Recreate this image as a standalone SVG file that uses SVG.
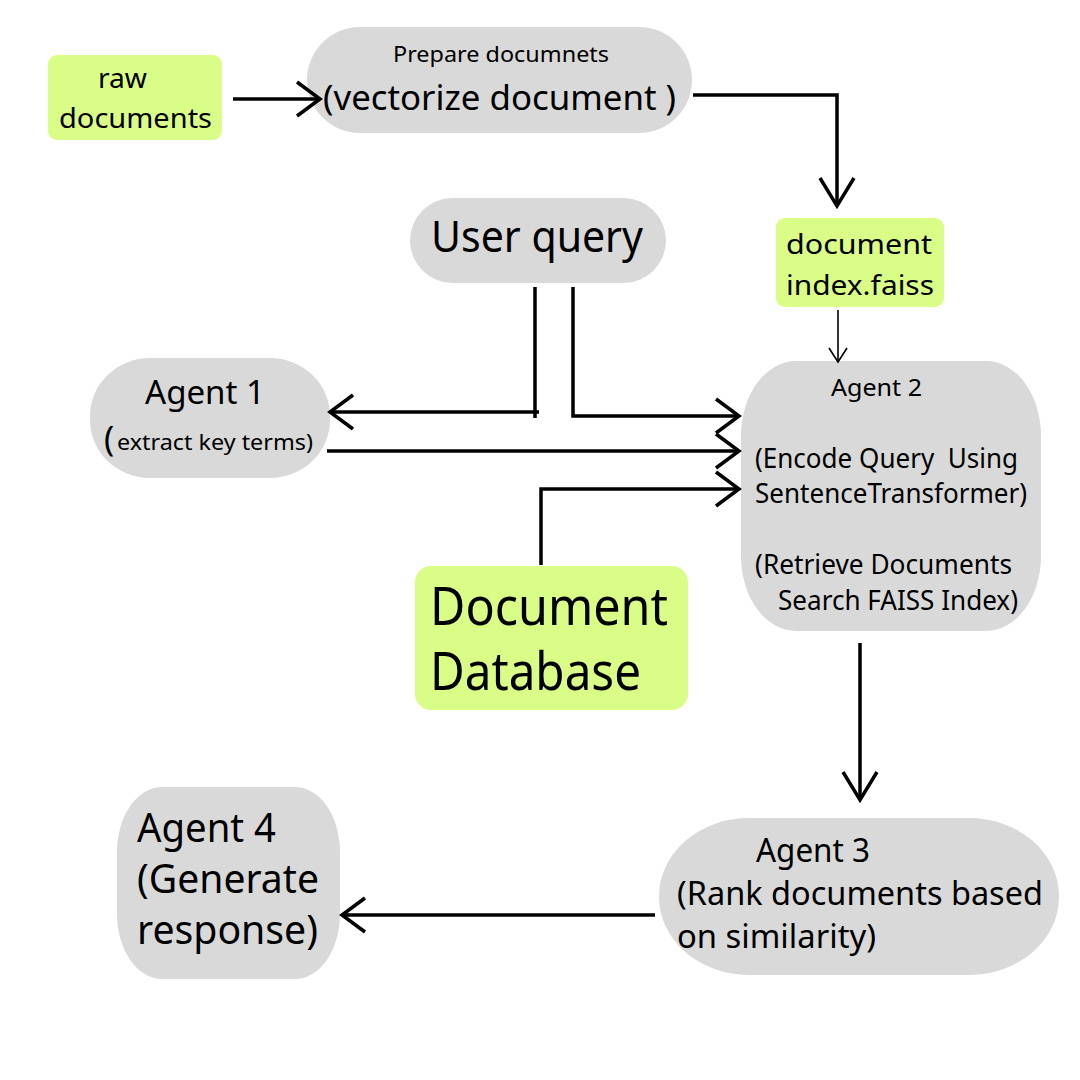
<svg xmlns="http://www.w3.org/2000/svg" width="1080" height="1080" viewBox="0 0 1080 1080">
<style>
.g{fill:#d9d9d9}
.y{fill:#d9fd86}
text{font-family:"Noto Sans","DejaVu Sans",sans-serif;fill:#000}
.pre{white-space:pre}
.c{fill:none;stroke:#000;stroke-width:3.5}
.t{fill:none;stroke:#000;stroke-width:1.6}
</style>
<defs>
<marker id="ch" markerUnits="userSpaceOnUse" markerWidth="40" markerHeight="40" refX="0" refY="0" orient="auto" overflow="visible">
<path d="M-23,-17 L0,0 L-23,17" fill="none" stroke="#000" stroke-width="3.5"/>
</marker>
<marker id="chb" markerUnits="userSpaceOnUse" markerWidth="40" markerHeight="40" refX="0" refY="0" orient="auto" overflow="visible">
<path d="M-28,-17 L0,0 L-28,17" fill="none" stroke="#000" stroke-width="3.5"/>
</marker>
<marker id="chs" markerUnits="userSpaceOnUse" markerWidth="30" markerHeight="30" refX="0" refY="0" orient="auto" overflow="visible">
<path d="M-14,-9 L0,0 L-14,9" fill="none" stroke="#000" stroke-width="1.6"/>
</marker>
</defs>
<rect width="1080" height="1080" fill="#fff"/>

<g id="raw-documents">
<rect class="y" x="48" y="55" width="174" height="85" rx="9"/>
<text x="98" y="88" font-size="28" textLength="49" lengthAdjust="spacingAndGlyphs">raw</text>
<text x="59" y="128" font-size="28" textLength="153" lengthAdjust="spacingAndGlyphs">documents</text>
</g>

<g id="prepare-documents">
<rect class="g" x="307" y="27" width="385" height="106" rx="53"/>
<text x="393" y="62" font-size="22" textLength="216" lengthAdjust="spacingAndGlyphs">Prepare documnets</text>
<text x="323" y="110" font-size="34" textLength="353" lengthAdjust="spacingAndGlyphs">(vectorize document )</text>
</g>

<g id="user-query">
<rect class="g" x="410" y="198" width="256" height="85" rx="42.5"/>
<text x="431" y="252" font-size="44" textLength="212" lengthAdjust="spacingAndGlyphs">User query</text>
</g>

<g id="document-index">
<rect class="y" x="776" y="218" width="168" height="89" rx="9"/>
<text x="786" y="254" font-size="28" textLength="146" lengthAdjust="spacingAndGlyphs">document</text>
<text x="786" y="295" font-size="28" textLength="148" lengthAdjust="spacingAndGlyphs">index.faiss</text>
</g>

<g id="agent-1">
<rect class="g" x="90" y="358" width="240" height="120" rx="60" ry="58"/>
<text x="145" y="404" font-size="32" textLength="120" lengthAdjust="spacingAndGlyphs">Agent 1</text>
<text x="104" y="451" font-size="34">(</text>
<text x="117" y="450" font-size="22" textLength="196" lengthAdjust="spacingAndGlyphs">extract key terms)</text>
</g>

<g id="agent-2">
<rect class="g" x="741" y="361" width="300" height="270" rx="55" ry="75"/>
<text x="831" y="396" font-size="24" textLength="91" lengthAdjust="spacingAndGlyphs">Agent 2</text>
<text class="pre" x="755" y="468" font-size="27" textLength="263" lengthAdjust="spacingAndGlyphs">(Encode Query  Using</text>
<text x="755" y="503" font-size="27" textLength="272" lengthAdjust="spacingAndGlyphs">SentenceTransformer)</text>
<text x="755" y="574" font-size="27" textLength="257" lengthAdjust="spacingAndGlyphs">(Retrieve Documents</text>
<text x="778" y="610" font-size="27" textLength="240" lengthAdjust="spacingAndGlyphs">Search FAISS Index)</text>
</g>

<g id="document-database">
<rect class="y" x="415" y="566" width="273" height="144" rx="16"/>
<text x="430" y="625" font-size="52" textLength="238" lengthAdjust="spacingAndGlyphs">Document</text>
<text x="430" y="690" font-size="52" textLength="211" lengthAdjust="spacingAndGlyphs">Database</text>
</g>

<g id="agent-3">
<rect class="g" x="659" y="818" width="400" height="157" rx="90" ry="78"/>
<text x="756" y="862" font-size="33" textLength="114" lengthAdjust="spacingAndGlyphs">Agent 3</text>
<text x="677" y="905" font-size="33" textLength="366" lengthAdjust="spacingAndGlyphs">(Rank documents based</text>
<text x="677" y="948" font-size="33" textLength="199" lengthAdjust="spacingAndGlyphs">on similarity)</text>
</g>

<g id="agent-4">
<rect class="g" x="117" y="787" width="223" height="192" rx="45" ry="65"/>
<text x="137" y="842" font-size="40" textLength="139" lengthAdjust="spacingAndGlyphs">Agent 4</text>
<text x="137" y="893" font-size="40" textLength="182" lengthAdjust="spacingAndGlyphs">(Generate</text>
<text x="137" y="944" font-size="40" textLength="181" lengthAdjust="spacingAndGlyphs">response)</text>
</g>

<g id="connectors">
<path class="c" d="M233,99 L320,99" marker-end="url(#ch)"/>
<path class="c" d="M693,95 L837,95 L837,206" marker-end="url(#chb)"/>
<path class="t" d="M838,310 L838,362" marker-end="url(#chs)"/>
<path class="c" d="M535,287 L535,418"/>
<path class="c" d="M539,412 L330,412" marker-end="url(#ch)"/>
<path class="c" d="M573,287 L573,416 L739,416" marker-end="url(#ch)"/>
<path class="c" d="M327,451 L739,451" marker-end="url(#ch)"/>
<path class="c" d="M541,565 L541,489 L739,489" marker-end="url(#ch)"/>
<path class="c" d="M860,643 L860,800" marker-end="url(#chb)"/>
<path class="c" d="M655,915 L342,915" marker-end="url(#ch)"/>
</g>
</svg>
